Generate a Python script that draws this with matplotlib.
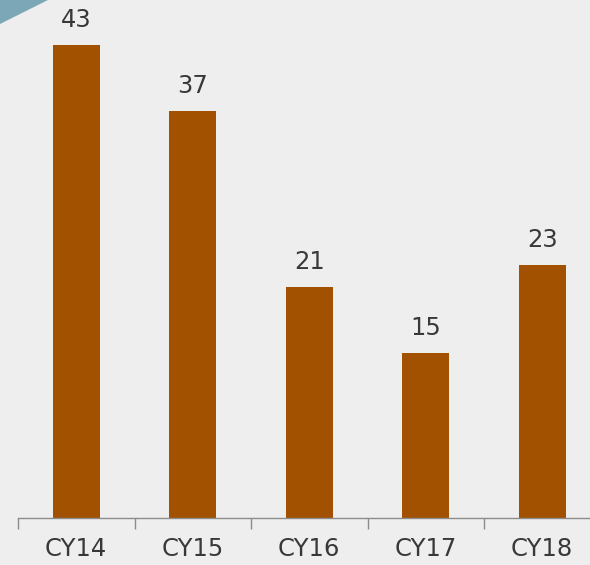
import matplotlib.pyplot as plt
from matplotlib.patches import Polygon

# Данные
years = ["CY14", "CY15", "CY16", "CY17", "CY18"]
values = [43, 37, 21, 15, 23]

bg = "#eeeeee"
bar_color = "#a25100"
text_color = "#383838"
font = ["DejaVu Sans"]

fig = plt.figure(figsize=(5.9, 5.65), dpi=100, facecolor=bg)
ax = fig.add_axes([18 / 590, 47 / 565, 582.5 / 590, 517 / 565])
ax.set_facecolor(bg)

x = list(range(len(years)))
bars = ax.bar(x, values, width=0.4, color=bar_color)

for xi, v in zip(x, values):
    ax.text(xi, v + 1.2, str(v), ha="center", va="bottom",
            fontsize=17.5, family=font, color=text_color)

ax.set_xlim(-0.5, len(years) - 0.5)
ax.set_ylim(0, 47)
ax.set_yticks([])
ax.set_xticks(x)
ax.set_xticklabels(years, fontsize=17.5, family=font, color=text_color)
ax.set_xticks([i - 0.5 for i in range(len(years) + 1)], minor=True)
ax.tick_params(axis="x", which="major", length=0, pad=14)
ax.tick_params(axis="x", which="minor", length=8, color="#8c8c8c", width=1)

for s in ["top", "right", "left"]:
    ax.spines[s].set_visible(False)
ax.spines["bottom"].set_color("#8c8c8c")
ax.spines["bottom"].set_linewidth(1)

# треугольник в углу
tri = Polygon([(0, 1), (48 / 590, 1), (0, 1 - 24 / 565)], closed=True,
              transform=fig.transFigure, facecolor="#7ba7b6", edgecolor="none")
fig.patches.append(tri)

plt.savefig("out.png", facecolor=bg)
plt.close()
